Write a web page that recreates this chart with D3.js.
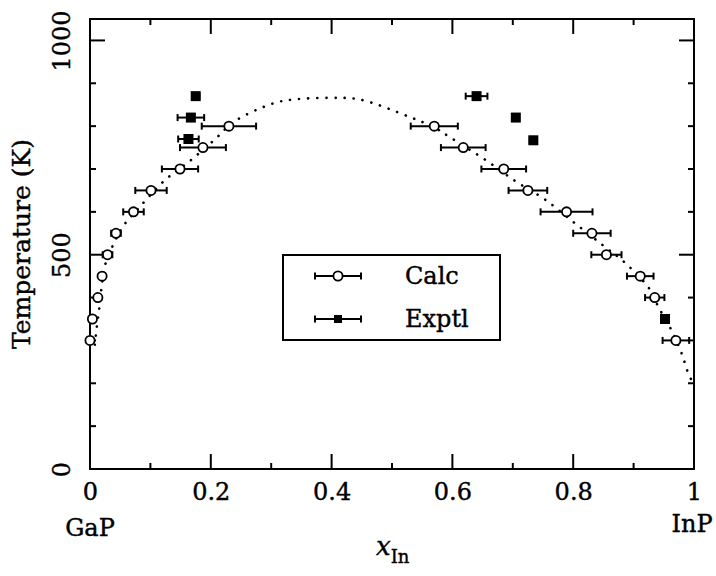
<!DOCTYPE html>
<html><head><meta charset="utf-8">
<script src="https://cdn.jsdelivr.net/npm/d3@7"></script>
<style>body{margin:0;background:#fff}svg{display:block}text{stroke:#000;stroke-width:0.4px}</style>
</head><body>
<svg id="c" width="716" height="576"></svg>
<script>
// ---- data ----
const calcX   = [0.000,0.004,0.013,0.020,0.029,0.043,0.072,0.101,0.149,0.187,0.230,0.570,0.618,0.685,0.725,0.789,0.831,0.855,0.911,0.935,0.970];
const calcT   = [300,350,400,450,500,550,600,650,700,750,800,800,750,700,650,600,550,500,450,400,300];
const calcErr = [0.003,0.004,0.004,0.000,0.008,0.008,0.017,0.026,0.030,0.038,0.045,0.039,0.037,0.037,0.032,0.043,0.031,0.025,0.022,0.016,0.022];

const exptlX   = [0.175,0.167,0.163,0.640,0.705,0.734,0.952];
const exptlT   = [870,820,770,870,820,767,350];
const exptlErr = [0.006,0.022,0.017,0.018,0.000,0.006,0.000];

const curveX = [0.008,0.011,0.015,0.020,0.025,0.040,0.054,0.082,0.124,0.163,0.206,0.238,0.303,0.336,0.400,0.447,0.530,0.570,0.596,0.657,0.706,0.752,0.805,0.851,0.886,0.927,0.941,0.962,0.980,0.989,0.996];
const curveT = [290,328,371,433,476,528,565,611,674,716,768,810,853,862,866,862,821,797,774,719,670,630,571,520,481,419,378,326,268,229,207];

const xTicks = [0,0.2,0.4,0.6,0.8,1];
const xTickLabels = ["0","0.2","0.4","0.6","0.8","1"];
const yTicks = [0,500,1000];
const yTickLabels = ["0","500","1000"];

// ---- layout ----
const L=90,R=694,T=19,B=469;
const svg=d3.select("#c");
const x=d3.scaleLinear().domain([0,1]).range([L,R]);
const y=d3.scaleLinear().domain([0,1050]).range([B,T]);
const font="'DejaVu Serif', serif";

// frame
svg.append("rect").attr("x",L).attr("y",T).attr("width",R-L).attr("height",B-T)
  .attr("fill","none").attr("stroke","#000").attr("stroke-width",2);

// ticks
const minorX=d3.range(0,1.0001,0.1), minorY=d3.range(0,1001,100);
const isMajX=v=>Math.abs(Math.round(v*10)%2)===0;
const isMajY=v=>Math.round(v)%500===0;
(function(){
  const g=svg.append("g").attr("stroke","#000").attr("stroke-width",2);
  minorX.forEach(v=>{const len=isMajX(v)?15:6;
    if(v>0&&v<1){
    g.append("line").attr("x1",x(v)).attr("x2",x(v)).attr("y1",B).attr("y2",B-len);
    g.append("line").attr("x1",x(v)).attr("x2",x(v)).attr("y1",T).attr("y2",T+len);}
  });
  minorY.forEach(v=>{const len=isMajY(v)?15:6;
    if(v>0){
    g.append("line").attr("x1",L).attr("x2",L+len).attr("y1",y(v)).attr("y2",y(v));
    g.append("line").attr("x1",R).attr("x2",R-len).attr("y1",y(v)).attr("y2",y(v));}
  });
})();

// tick labels
const xa=d3.axisBottom(x).tickValues(xTicks).tickFormat((d,i)=>xTickLabels[i]).tickSize(0).tickPadding(14);
const gx=svg.append("g").attr("transform",`translate(0,${B})`).call(xa);
gx.select(".domain").remove();
gx.selectAll("text").attr("font-family",font).attr("font-size",24).attr("fill","#000");

const ya=d3.axisLeft(y).tickValues(yTicks).tickFormat((d,i)=>yTickLabels[i]).tickSize(0);
const gy=svg.append("g").attr("transform",`translate(${L},0)`).call(ya);
gy.select(".domain").remove();
gy.selectAll("text").attr("font-family",font).attr("font-size",24).attr("fill","#000")
  .attr("text-anchor","middle").attr("dy",null).attr("x",null)
  .attr("transform",`translate(-28,0) rotate(-90)`).attr("dominant-baseline","central");

// end labels
svg.append("text").attr("x",x(0)).attr("y",536).attr("text-anchor","middle")
  .attr("font-family",font).attr("font-size",24).text("GaP");
svg.append("text").attr("x",x(1)-2).attr("y",532).attr("text-anchor","middle")
  .attr("font-family",font).attr("font-size",24).text("InP");

// axis titles
const xt=svg.append("text").attr("x",376).attr("y",555).attr("font-size",26);
xt.append("tspan").attr("font-family","'DejaVu Serif', serif").attr("font-style","italic").text("x");
xt.append("tspan").attr("font-family",font).attr("font-size",18).attr("dy",8).text("In");

svg.append("text").attr("transform",`translate(30,244) rotate(-90)`)
  .attr("text-anchor","middle").attr("font-family",font).attr("font-size",25).text("Temperature (K)");

// curve
const line=d3.line().x(d=>x(d[0])).y(d=>y(d[1])).curve(d3.curveCatmullRom);
svg.append("path").datum(curveX.map((v,i)=>[v,curveT[i]])).attr("d",line)
  .attr("fill","none").attr("stroke","#000").attr("stroke-width",2.6)
  .attr("stroke-linecap","round").attr("stroke-dasharray","0.1,9");

// error bars
function errbars(xs,ts,es){
  const g=svg.append("g").attr("stroke","#000").attr("stroke-width",2);
  xs.forEach((v,i)=>{
    const e=es[i]; if(!e) return;
    const yy=y(ts[i]), x1=x(v-e), x2=Math.min(x(v+e),R);
    g.append("line").attr("x1",x1).attr("x2",x2).attr("y1",yy).attr("y2",yy);
    g.append("line").attr("x1",x1).attr("x2",x1).attr("y1",yy-3.5).attr("y2",yy+3.5);
    g.append("line").attr("x1",x2).attr("x2",x2).attr("y1",yy-3.5).attr("y2",yy+3.5);
  });
}
errbars(calcX,calcT,calcErr);
errbars(exptlX,exptlT,exptlErr);

svg.append("g").selectAll("circle").data(calcX).join("circle")
  .attr("cx",d=>x(d)).attr("cy",(d,i)=>y(calcT[i])).attr("r",4.6)
  .attr("fill","#fff").attr("stroke","#000").attr("stroke-width",1.8);
svg.append("g").selectAll("rect").data(exptlX).join("rect")
  .attr("x",d=>x(d)-5).attr("y",(d,i)=>y(exptlT[i])-5).attr("width",10).attr("height",10)
  .attr("fill","#000");

// legend
const lg=svg.append("g");
lg.append("rect").attr("x",283).attr("y",255).attr("width",217).attr("height",85)
  .attr("fill","#fff").attr("stroke","#000").attr("stroke-width",2);
const legY=[276,319];
const lgs=lg.append("g").attr("stroke","#000").attr("stroke-width",2);
legY.forEach(yy=>{
  lgs.append("line").attr("x1",315).attr("x2",361).attr("y1",yy).attr("y2",yy);
  lgs.append("line").attr("x1",315).attr("x2",315).attr("y1",yy-3.5).attr("y2",yy+3.5);
  lgs.append("line").attr("x1",361).attr("x2",361).attr("y1",yy-3.5).attr("y2",yy+3.5);
});
lg.append("circle").attr("cx",338).attr("cy",legY[0]).attr("r",4.6).attr("fill","#fff").attr("stroke","#000").attr("stroke-width",1.8);
lg.append("rect").attr("x",334).attr("y",legY[1]-4).attr("width",8).attr("height",8).attr("fill","#000");
lg.append("text").attr("x",405).attr("y",legY[0]+8).attr("font-family",font).attr("font-size",24).text("Calc");
lg.append("text").attr("x",405).attr("y",legY[1]+8).attr("font-family",font).attr("font-size",24).text("Exptl");
</script>
</body></html>
